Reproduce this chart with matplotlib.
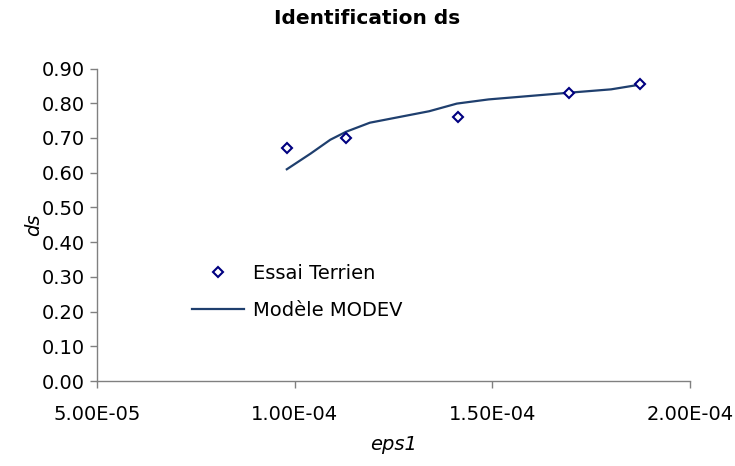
import matplotlib
matplotlib.use("Agg")
import matplotlib.pyplot as plt

# measured points (Essai Terrien)
eps_essai = [9.8e-5, 1.13e-4, 1.412e-4, 1.694e-4, 1.873e-4]
ds_essai = [0.67, 0.70, 0.76, 0.83, 0.855]

# model curve (Modele MODEV)
eps_model = [9.8e-5, 1.04e-4, 1.09e-4, 1.13e-4, 1.19e-4, 1.34e-4, 1.41e-4,
             1.49e-4, 1.69e-4, 1.80e-4, 1.87e-4]
ds_model = [0.61, 0.655, 0.695, 0.718, 0.744, 0.777, 0.799, 0.811, 0.830,
            0.840, 0.853]

x_ticks = [5e-5, 1e-4, 1.5e-4, 2e-4]
x_labels = ["5.00E-05", "1.00E-04", "1.50E-04", "2.00E-04"]
y_ticks = [0.0, 0.1, 0.2, 0.3, 0.4, 0.5, 0.6, 0.7, 0.8, 0.9]

plt.rcParams["font.family"] = ["DejaVu Sans"]
fs = 14

fig = plt.figure(figsize=(7.35, 4.66), dpi=100)
ax = fig.add_axes([0.132, 0.182, 0.807, 0.671])

ax.plot(eps_model, ds_model, color="#1f3f6e", lw=1.6, label="Modèle MODEV", zorder=2)
ax.plot(eps_essai, ds_essai, ls="none", marker="D", ms=5.5, mfc="white",
        mec="#000080", mew=1.5, label="Essai Terrien", zorder=3)

ax.set_xlim(5e-5, 2e-4)
ax.set_ylim(0, 0.9)
ax.set_xticks(x_ticks)
ax.set_xticklabels(x_labels)
ax.set_yticks(y_ticks)
ax.set_yticklabels([f"{v:.2f}" for v in y_ticks])
ax.tick_params(labelsize=fs, length=5, color="#808080", direction="out", width=1)
ax.tick_params(axis="x", pad=12)

for side in ("top", "right"):
    ax.spines[side].set_visible(False)
for side in ("left", "bottom"):
    ax.spines[side].set_color("#808080")
    ax.spines[side].set_linewidth(1)

ax.set_xlabel("eps1", fontsize=fs, style="italic", labelpad=8)
ax.set_ylabel("ds", fontsize=fs, style="italic", labelpad=-1)
fig.suptitle("Identification ds", fontsize=14.5, fontweight="bold", y=0.98)

handles, labels = ax.get_legend_handles_labels()
ax.legend(handles[::-1], labels[::-1], loc="upper left",
          bbox_to_anchor=(0.13, 0.43), frameon=False, fontsize=fs,
          handlelength=2.7, labelspacing=0.9, handletextpad=0.45)

fig.savefig("out.png", dpi=100)
